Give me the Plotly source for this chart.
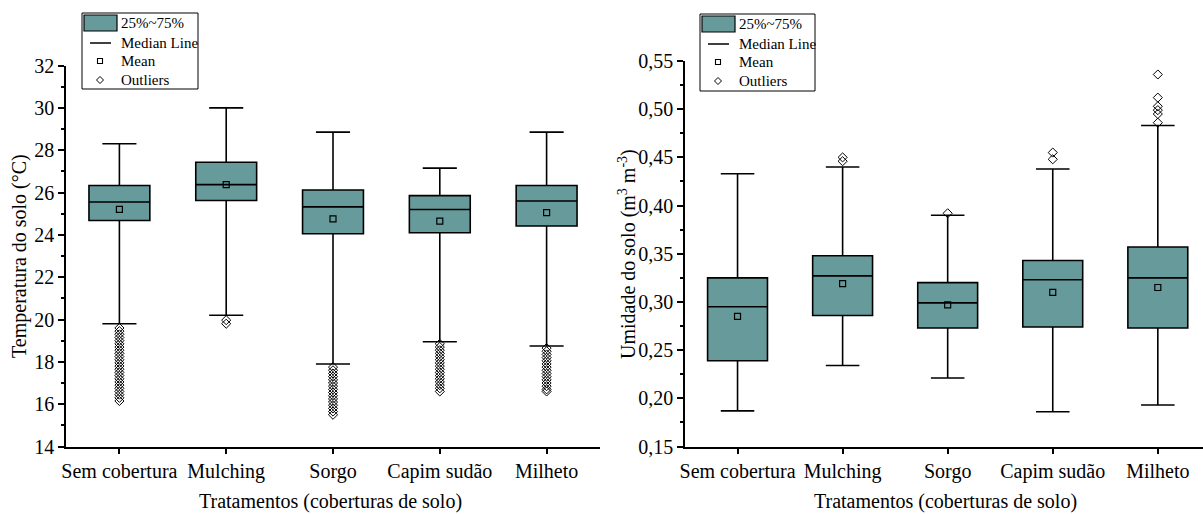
import plotly.graph_objects as go

W, H = 1203, 514
categories = ["Sem cobertura", "Mulching", "Sorgo", "Capim sudão", "Milheto"]

# Temperature (°C)
t_upper = [28.3, 30.0, 28.85, 27.15, 28.85]
t_q3 = [26.33, 27.43, 26.12, 25.85, 26.33]
t_median = [25.55, 26.37, 25.32, 25.2, 25.6]
t_mean = [25.2, 26.37, 24.75, 24.65, 25.05]
t_q1 = [24.68, 25.62, 24.05, 24.1, 24.42]
t_lower = [19.8, 20.2, 17.9, 18.95, 18.75]
t_outliers = {
    "Sem cobertura": [19.6, 19.45, 19.3, 19.15, 19.0, 18.85, 18.7, 18.55, 18.4, 18.25, 18.1,
                      17.95, 17.8, 17.65, 17.5, 17.35, 17.2, 17.05, 16.9, 16.75, 16.6, 16.45,
                      16.3, 16.15],
    "Mulching": [19.97, 19.8],
    "Sorgo": [17.75, 17.6, 17.45, 17.3, 17.15, 17.0, 16.85, 16.7, 16.55, 16.4, 16.25, 16.1,
              15.95, 15.8, 15.65, 15.5],
    "Capim sudão": [18.85, 18.7, 18.55, 18.4, 18.25, 18.1, 17.95, 17.8, 17.65, 17.5, 17.35,
                    17.2, 17.05, 16.9, 16.75, 16.6],
    "Milheto": [18.65, 18.5, 18.35, 18.2, 18.05, 17.9, 17.75, 17.6, 17.45, 17.3, 17.15, 17.0,
                16.85, 16.7, 16.6],
}

# Soil moisture (m3 m-3)
u_upper = [0.433, 0.440, 0.390, 0.438, 0.483]
u_q3 = [0.325, 0.348, 0.320, 0.343, 0.357]
u_median = [0.295, 0.327, 0.299, 0.323, 0.325]
u_mean = [0.285, 0.319, 0.297, 0.310, 0.315]
u_q1 = [0.239, 0.286, 0.273, 0.274, 0.273]
u_lower = [0.187, 0.234, 0.221, 0.186, 0.193]
u_outliers = {
    "Sem cobertura": [],
    "Mulching": [0.450, 0.446],
    "Sorgo": [0.392],
    "Capim sudão": [0.455, 0.448],
    "Milheto": [0.536, 0.512, 0.503, 0.499, 0.495, 0.486],
}

BOX_COLOR = "#679b9b"
FONT = "Liberation Serif"

fig = go.Figure()

def add_panel(xa, ya, upper, q3, med, mean, q1, lower, outl):
    fig.add_trace(go.Box(
        x=categories, q1=q1, median=med, q3=q3, lowerfence=lower, upperfence=upper,
        xaxis=xa, yaxis=ya, fillcolor=BOX_COLOR, line=dict(color="black", width=1.6),
        width=0.57, whiskerwidth=0.56, boxpoints=False, showlegend=False, hoverinfo="skip"))
    fig.add_trace(go.Scatter(
        x=categories, y=mean, mode="markers", xaxis=xa, yaxis=ya, showlegend=False,
        marker=dict(symbol="square-open", size=6, color="black", line=dict(width=1.2))))
    ox, oy = [], []
    for c in categories:
        for v in outl[c]:
            ox.append(c)
            oy.append(v)
    fig.add_trace(go.Scatter(
        x=ox, y=oy, mode="markers", xaxis=xa, yaxis=ya, showlegend=False,
        marker=dict(symbol="diamond-open", size=7, color="black", line=dict(width=1))))

add_panel("x", "y", t_upper, t_q3, t_median, t_mean, t_q1, t_lower, t_outliers)
add_panel("x2", "y2", u_upper, u_q3, u_median, u_mean, u_q1, u_lower, u_outliers)

def fx(p):
    return p / W

def fy(p):
    return 1 - p / H

axis_common = dict(showline=True, linecolor="black", linewidth=1.5, ticks="outside",
                   tickcolor="black", tickwidth=1.5, showgrid=False, zeroline=False,
                   automargin=False,
                   tickfont=dict(family=FONT, size=20, color="black"))

fig.update_layout(
    template="none",
    width=W, height=H, margin=dict(l=0, r=0, t=0, b=0, pad=0, autoexpand=False),
    plot_bgcolor="white", paper_bgcolor="white", separators=", ",
    font=dict(family=FONT, color="black"),
    xaxis=dict(domain=[fx(66), fx(600)], range=[-0.5, 4.5], anchor="y", ticklen=6,
               **axis_common),
    yaxis=dict(domain=[fy(446.5), fy(65.5)], range=[14, 32], dtick=2, anchor="x", ticklen=6,
               minor=dict(ticks="outside", ticklen=3, dtick=1, tickcolor="black", tickwidth=1.5),
               **axis_common),
    xaxis2=dict(domain=[fx(685), 1.0], range=[-0.5, 4.43], anchor="y2", ticklen=6,
                **axis_common),
    yaxis2=dict(domain=[fy(446.5), fy(61)], range=[0.15, 0.55], dtick=0.05, tickformat=".2f",
                anchor="x2", ticklen=6,
                minor=dict(ticks="outside", ticklen=3, dtick=0.025, tickcolor="black", tickwidth=1.5),
                **axis_common),
)

annotations = [
    dict(text="Tratamentos (coberturas de solo)", x=fx(330), y=fy(501), font=dict(size=20)),
    dict(text="Tratamentos (coberturas de solo)", x=fx(945), y=fy(501), font=dict(size=20)),
    dict(text="Temperatura do solo (°C)", x=fx(19), y=fy(256), textangle=-90, font=dict(size=20)),
    dict(text="Umidade do solo (m<sup>3</sup> m<sup>-3</sup>)", x=fx(627), y=fy(254),
         textangle=-90, font=dict(size=20)),
]
shapes = []

def legend(x0, y0, x1, y1):
    shapes.append(dict(type="rect", x0=fx(x0), x1=fx(x1), y0=fy(y1), y1=fy(y0),
                       line=dict(color="black", width=1), fillcolor="white"))
    shapes.append(dict(type="rect", x0=fx(x0 + 2), x1=fx(x0 + 35), y0=fy(y0 + 18), y1=fy(y0 + 2),
                       line=dict(color="black", width=1.2), fillcolor=BOX_COLOR))
    shapes.append(dict(type="line", x0=fx(x0 + 8), x1=fx(x0 + 29), y0=fy(y0 + 30), y1=fy(y0 + 30),
                       line=dict(color="black", width=1.5)))
    cx = x0 + 18
    shapes.append(dict(type="rect", x0=fx(cx - 2.5), x1=fx(cx + 2.5), y0=fy(y0 + 50.5),
                       y1=fy(y0 + 45.5), line=dict(color="black", width=1.1)))
    yc = y0 + 67
    shapes.append(dict(type="path",
                       path=f"M {fx(cx)} {fy(yc-3.5)} L {fx(cx+3.5)} {fy(yc)} L {fx(cx)} {fy(yc+3.5)} L {fx(cx-3.5)} {fy(yc)} Z",
                       line=dict(color="black", width=1)))
    labels = ["25%~75%", "Median Line", "Mean", "Outliers"]
    ys = [y0 + 10, y0 + 29.5, y0 + 48, y0 + 67]
    for lab, yy in zip(labels, ys):
        annotations.append(dict(text=lab, x=fx(x0 + 37), y=fy(yy), xanchor="left",
                                font=dict(size=15)))

legend(82, 13, 198, 89)
legend(700, 14, 815, 91)

for a in annotations:
    a.setdefault("xref", "paper")
    a.setdefault("yref", "paper")
    a.setdefault("showarrow", False)
    a.setdefault("yanchor", "middle")
    a.setdefault("xanchor", "center")
    a["font"] = dict(family=FONT, color="black", size=a["font"]["size"])
for s in shapes:
    s["xref"] = "paper"
    s["yref"] = "paper"

fig.update_layout(annotations=annotations, shapes=shapes)
fig.write_html("out.html")
